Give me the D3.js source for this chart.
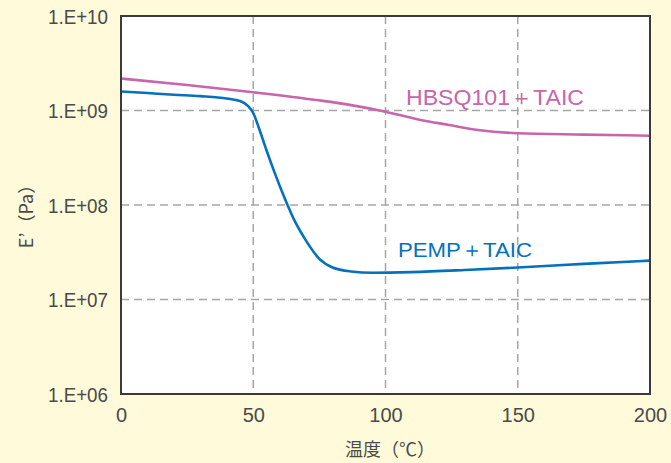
<!DOCTYPE html>
<html>
<head>
<meta charset="utf-8">
<script src="https://cdn.jsdelivr.net/npm/d3@7"></script>
<style>
  html, body { margin: 0; padding: 0; background: #fffad9; }
  svg { display: block; }
  text { font-family: "Liberation Sans", Arial, sans-serif; fill: #4a4a4a; }
</style>
</head>
<body>
<svg id="chart" width="671" height="463"></svg>
<script>
// Storage modulus E' (Pa) versus temperature (°C)
const temps = [0, 10, 20, 30, 40, 45, 48, 50, 52, 55, 58, 62, 66, 70, 75, 80, 87, 95, 110, 130, 150, 175, 200];
const pempValues = [1.59e9, 1.53e9, 1.47e9, 1.42e9, 1.34e9, 1.26e9, 1.12e9, 9.4e8, 6.7e8, 3.8e8, 2.23e8,
  1.16e8, 6.5e7, 4.17e7, 2.69e7, 2.18e7, 1.98e7, 1.92e7, 1.95e7, 2.05e7, 2.18e7, 2.38e7, 2.58e7];

const hbsqTemps = [0, 25, 50, 74, 87, 100, 112, 124, 135, 150, 175, 200];
const hbsqValues = [2.18e9, 1.86e9, 1.56e9, 1.29e9, 1.14e9, 9.7e8, 8.1e8, 7.03e8, 6.22e8, 5.74e8, 5.56e8, 5.41e8];

const xTicks = [0, 50, 100, 150, 200];
const yTicks = [1e6, 1e7, 1e8, 1e9, 1e10];
const yTickLabels = ["1.E+06", "1.E+07", "1.E+08", "1.E+09", "1.E+10"];

const seriesNames = ["HBSQ101＋TAIC", "PEMP＋TAIC"];
const seriesColors = ["#c865ab", "#0571bd"];

const svg = d3.select("#chart");
const plotL = 121, plotR = 650, plotT = 16, plotB = 394;

const x = d3.scaleLinear().domain([0, 200]).range([plotL, plotR]);
const y = d3.scaleLog().domain([1e6, 1e10]).range([plotB, plotT]);

// plot background
svg.append("rect")
  .attr("x", plotL).attr("y", plotT)
  .attr("width", plotR - plotL).attr("height", plotB - plotT)
  .attr("fill", "#ffffff");

// dashed grid
const grid = svg.append("g").attr("stroke", "#a6a6a6").attr("stroke-width", 1.5).attr("stroke-dasharray", "8,5");
grid.selectAll("line.v").data(xTicks.slice(1, -1)).join("line")
  .attr("x1", d => x(d)).attr("x2", d => x(d))
  .attr("y1", plotT).attr("y2", plotB);
grid.selectAll("line.h").data(yTicks.slice(1, -1)).join("line")
  .attr("x1", plotL).attr("x2", plotR)
  .attr("y1", d => y(d)).attr("y2", d => y(d));

// curves
const pempPts = temps.map((t, i) => [t, pempValues[i]]);
const hbsqPts = hbsqTemps.map((t, i) => [t, hbsqValues[i]]);
const line = d3.line().x(d => x(d[0])).y(d => y(d[1])).curve(d3.curveMonotoneX);

svg.append("path").datum(hbsqPts).attr("d", line)
  .attr("fill", "none").attr("stroke", seriesColors[0]).attr("stroke-width", 2.6);
svg.append("path").datum(pempPts).attr("d", line)
  .attr("fill", "none").attr("stroke", seriesColors[1]).attr("stroke-width", 2.6);

// frame
svg.append("rect")
  .attr("x", plotL).attr("y", plotT)
  .attr("width", plotR - plotL).attr("height", plotB - plotT)
  .attr("fill", "none").attr("stroke", "#3a3a3a").attr("stroke-width", 2);

// axes
const yAxis = d3.axisLeft(y).tickValues(yTicks)
  .tickFormat((d, i) => yTickLabels[i]).tickSize(0).tickPadding(13);
const gy = svg.append("g").attr("transform", `translate(${plotL},0)`).call(yAxis);
gy.select(".domain").remove();
gy.selectAll("text").style("font-size", "20px").attr("dy", "0.36em")
  .attr("textLength", 60).attr("lengthAdjust", "spacingAndGlyphs");

const xAxis = d3.axisBottom(x).tickValues(xTicks).tickSize(0).tickPadding(14);
const gx = svg.append("g").attr("transform", `translate(0,${plotB})`).call(xAxis);
gx.select(".domain").remove();
gx.selectAll("text").style("font-size", "20px");

// axis titles
svg.append("text")
  .attr("x", 390).attr("y", 456)
  .attr("text-anchor", "middle")
  .style("font-size", "18px")
  .style("font-family", "'Noto Sans CJK JP', sans-serif")
  .text("温度（℃）");

svg.append("text")
  .attr("transform", "translate(33,212) rotate(-90)")
  .attr("text-anchor", "middle")
  .style("font-size", "18px")
  .style("font-family", "'Noto Sans CJK JP', sans-serif")
  .text("E’（Pa）");

// series labels
svg.append("text")
  .attr("x", 406).attr("y", 105)
  .style("font-size", "22px")
  .style("fill", seriesColors[0])
  .attr("textLength", 178).attr("lengthAdjust", "spacingAndGlyphs")
  .text(seriesNames[0]);
svg.append("text")
  .attr("x", 398).attr("y", 257)
  .style("font-size", "21px")
  .style("fill", seriesColors[1])
  .attr("textLength", 134).attr("lengthAdjust", "spacingAndGlyphs")
  .text(seriesNames[1]);
</script>
</body>
</html>
